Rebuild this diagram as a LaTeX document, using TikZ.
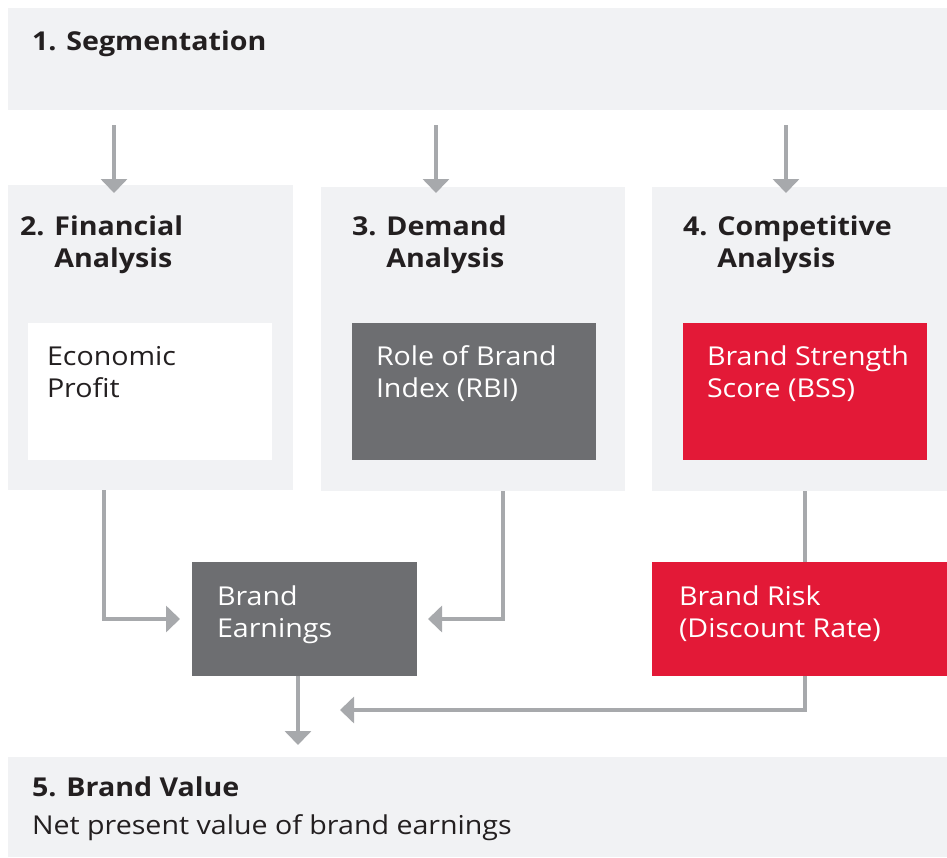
\documentclass[tikz,border=0pt]{standalone}
\usepackage{fontspec}
\setmainfont{Open Sans}[FakeStretch=1.1]
\usetikzlibrary{arrows.meta,calc}
\definecolor{boxbg}{HTML}{F1F2F4}
\definecolor{darkgray}{HTML}{6D6E71}
\definecolor{brandred}{HTML}{E31937}
\definecolor{arrowgray}{HTML}{A7A9AC}
\definecolor{txt}{HTML}{231F20}
\tikzset{
  box/.style={rectangle, inner sep=0pt, outer sep=0pt, anchor=north west, draw=none},
  lbl/.style={anchor=base west, inner sep=0pt, outer sep=0pt, text=txt, font=\fontsize{26}{32}\selectfont},
  ttl/.style={lbl, font=\fontsize{26}{32}\selectfont\bfseries},
  wlbl/.style={lbl, text=white},
  arr/.style={draw=arrowgray, line width=4pt, -{Triangle[width=26pt,length=14pt]}},
  ln/.style={draw=arrowgray, line width=4pt},
}
\begin{document}
\begin{tikzpicture}[x=1pt,y=-1pt]
\useasboundingbox (0,0) rectangle (947,857);
% boxes
\node[box, fill=boxbg, minimum width=939pt, minimum height=102pt] (seg) at (8,8) {};
\node[box, fill=boxbg, minimum width=285pt, minimum height=305pt] (fin) at (8,185) {};
\node[box, fill=boxbg, minimum width=304pt, minimum height=304pt] (dem) at (321,187) {};
\node[box, fill=boxbg, minimum width=295pt, minimum height=304pt] (comp) at (652,187) {};
\node[box, fill=white, minimum width=244pt, minimum height=137pt] (ep) at (28,323) {};
\node[box, fill=darkgray, minimum width=244pt, minimum height=137pt] (rbi) at (352,323) {};
\node[box, fill=brandred, minimum width=244pt, minimum height=137pt] (bss) at (683,323) {};
\node[box, fill=darkgray, minimum width=225pt, minimum height=114pt] (earn) at (192,562) {};
\node[box, fill=brandred, minimum width=295pt, minimum height=114pt] (risk) at (652,562) {};
\node[box, fill=boxbg, minimum width=939pt, minimum height=100pt] (val) at (8,757) {};
% texts
\node[ttl] (segt) at (32,50) {1. Segmentation};
\node[ttl] (fint1) at (20,235) {2. Financial};
\node[ttl] (fint2) at (20,267) {\phantom{2. }Analysis};
\node[ttl] (demt1) at (352,235) {3. Demand};
\node[ttl] (demt2) at (352,267) {\phantom{3. }Analysis};
\node[ttl] (compt1) at (683,235) {4. Competitive};
\node[ttl] (compt2) at (683,267) {\phantom{4. }Analysis};
\node[lbl] (ept1) at (47,365) {Economic};
\node[lbl] (ept2) at (47,397) {Profit};
\node[wlbl] (rbit1) at (376,365) {Role of Brand};
\node[wlbl] (rbit2) at (376,397) {Index (RBI)};
\node[wlbl] (bsst1) at (707,365) {Brand Strength};
\node[wlbl] (bsst2) at (707,397) {Score (BSS)};
\node[wlbl] (earnt1) at (217,605) {Brand};
\node[wlbl] (earnt2) at (217,637) {Earnings};
\node[wlbl] (riskt1) at (679,605) {Brand Risk};
\node[wlbl] (riskt2) at (679,637) {(Discount Rate)};
\node[ttl] (valt1) at (32,796) {5. Brand Value};
\node[lbl] (valt2) at (32,834) {Net present value of brand earnings};
% arrows from segmentation
\draw[arr] ([xshift=106pt,yshift=-15pt]seg.south west) -- ([xshift=106pt,yshift=-8pt]fin.north west);
\draw[arr] ([xshift=115pt,yshift=-15pt]seg.south -| dem.west) -- ([xshift=115pt,yshift=-6pt]dem.north west);
\draw[arr] ([xshift=134pt,yshift=-15pt]seg.south -| comp.west) -- ([xshift=134pt,yshift=-6pt]comp.north west);
% to brand earnings
\draw[arr] ([xshift=96pt]fin.south west) |- ([xshift=-12pt]earn.west);
\draw[arr] ([xshift=182pt]dem.south west) |- ([xshift=11pt]earn.east);
\draw[ln] ([xshift=153pt]comp.south west) -- ([xshift=153pt]risk.north west);
\draw[arr] ([xshift=153pt]risk.south west) |- ([xshift=-312pt,yshift=-34pt]risk.south west);
\draw[arr] ([xshift=106pt]earn.south west) -- ([xshift=106pt,yshift=12pt]val.north west -| earn.west);
\end{tikzpicture}
\end{document}
